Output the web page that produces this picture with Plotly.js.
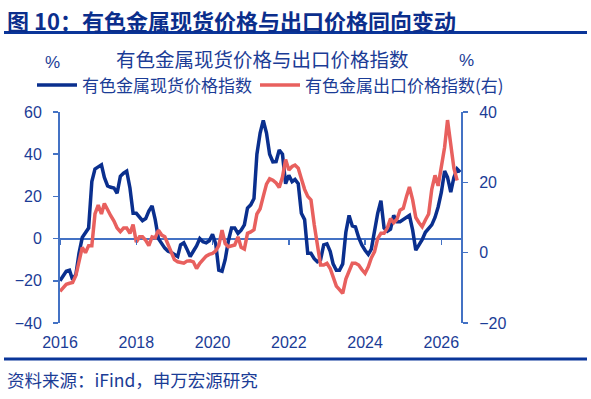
<!DOCTYPE html>
<html>
<head>
<meta charset="utf-8">
<script src="https://cdn.plot.ly/plotly-3.0.1.min.js"></script>
<style>
html,body{margin:0;padding:0;background:#fff;}
#chart{width:591px;height:399px;}
</style>
</head>
<body>
<div id="chart"></div>
<script>
// Monthly data, starting 2016-01
const startYear = 2016;
const spotIndex = [
 -20,-18,-15.5,-15,-19.5,-17,-7,0.5,2.5,5,27,33,
 34,35,29,25,24.3,24,21.5,29.5,31,32,24,12,
 12,10,8.5,9.5,13,15.5,9,0,-2.5,-4.5,-6,-6.5,
 -7.5,-8.5,-3,-2,-5,-8.5,-6,-3.5,0,-1.5,-2,-1,
 2,-2.5,-15,-15.5,-10,-1,5,5,2.5,4,6.5,14.5,
 16,19,40,50,56,50,40,36.4,36.5,42,40,26,
 30,27,28,26,12,9,-7,-7,-9.5,-11,-10,-3,
 -2.5,-6,-12,-15,-15,-12,3,11,6,5.5,0.5,-3,
 -5.5,-7.5,-5,5,12,18,5,3.5,4.5,11,8,8,
 9,10.3,11,4,-5.5,-3,-0.5,3,5,6.5,10,15,
 22,32,29,22,29,33,31.5
];
const exportIndex = [
 -11,-10,-9,-8.7,-8.5,-6.5,-3,1.5,0,2,2,11,
 13.5,11,14,12,10.5,9,7,6,7,7,5.5,8,
 3,4.5,4.5,3.5,2,4.5,4.2,6.4,5,4.5,2.5,0,
 -2,-2.6,-2.8,-3,-2.4,-2.3,-2.6,-4.5,-3,-2,-1,-0.5,
 -0.2,0.5,2,6.4,2.6,1.7,2,2.2,4.5,1.5,1,5.5,
 5.9,6.5,11,12.5,16,19.5,21,20.6,19.8,18.5,21.5,26.5,
 23.5,24.5,24.9,24,21,18,16,15,8,2,-3.5,-3.5,
 -3,-4.5,-7,-9.5,-10.5,-11.6,-7.5,-5,-3,-3,-3.5,-4.8,
 -5.9,-4,-1.5,0.3,4,5.5,5.5,7,9.7,8.5,9.5,12.1,
 12.6,16,18.7,15,10,8.5,7.4,9.3,11,18,22,19,
 25,30,37.7,31,24,20.5
];
const yearLabels = ['2016','2018','2020','2022','2024','2026'];
const seriesNames = ['有色金属现货价格指数','有色金属出口价格指数(右)'];

function monthDate(i){
  const y = startYear + Math.floor(i/12);
  const m = (i%12)+1;
  return y + '-' + (m<10?'0':'') + m + '-01';
}
const datesSpot = spotIndex.map((_,i)=>monthDate(i));
const datesExport = exportIndex.map((_,i)=>monthDate(i));
const tickDates = yearLabels.map(y=>y+'-01-01');

const txtColor = '#1b3c96';
const axColor = '#4472c4';
const font = 'Liberation Sans, Arial, Noto Sans CJK SC, sans-serif';
const cjk = 'Noto Sans CJK SC, Liberation Sans, sans-serif';

const traces = [
 {x: datesSpot, y: spotIndex, type:'scatter', mode:'lines', name: seriesNames[0],
  line:{color:'#0a2f8e', width:3.5}, xaxis:'x', yaxis:'y', legend:'legend'},
 {x: datesExport, y: exportIndex, type:'scatter', mode:'lines', name: seriesNames[1],
  line:{color:'#e8605e', width:3.5}, xaxis:'x', yaxis:'y2', legend:'legend2'},
 {x: [tickDates[0]], y:[null], type:'scatter', mode:'lines', showlegend:false, hoverinfo:'skip',
  xaxis:'x2', yaxis:'y'}
];

const L=60, R=461, T=111.7, B=323;
const W=R-L, H=B-T;
const px = v => (v-L)/W;
const py = v => (B-v)/H;

const legendBase = {orientation:'h', yanchor:'middle', xanchor:'left',
   font:{family:cjk, size:17, color:txtColor}, bgcolor:'rgba(0,0,0,0)', itemwidth:40};

const layout = {
 width:591, height:399,
 margin:{l:L, r:591-R, t:T, b:399-B, pad:0},
 paper_bgcolor:'#fff', plot_bgcolor:'#fff',
 font:{family:font, color:txtColor, size:16},
 showlegend:true,
 legend: Object.assign({}, legendBase, {x:px(32), y:py(85)}),
 legend2: Object.assign({}, legendBase, {x:px(255), y:py(85)}),
 xaxis:{type:'date', range:['2016-01-01','2026-07-08'], tickvals:tickDates, ticktext:yearLabels,
   showgrid:false, zeroline:false, showline:false, ticks:'', ticklabelstandoff:8,
   tickfont:{size:16, color:txtColor}},
 xaxis2:{type:'date', overlaying:'x', range:['2016-01-01','2026-07-08'], tickvals:tickDates,
   showticklabels:false, showgrid:false, zeroline:false, showline:false,
   ticks:'outside', ticklen:5, tickwidth:1.5, tickcolor:axColor,
   anchor:'free', position:0.4, side:'bottom'},
 yaxis:{range:[-40,60], tickvals:[-40,-20,0,20,40,60], showgrid:false,
   zeroline:true, zerolinecolor:axColor, zerolinewidth:2,
   showline:true, linecolor:axColor, linewidth:2, ticks:'outside', ticklen:5, tickwidth:1.5, tickcolor:axColor,
   tickfont:{size:16, color:txtColor}, ticklabelstandoff:8},
 yaxis2:{range:[-20,40], tickvals:[-20,0,20,40], overlaying:'y', side:'right', showgrid:false,
   zeroline:false, showline:true, linecolor:axColor, linewidth:2, ticks:'outside', ticklen:5, tickwidth:1.5, tickcolor:axColor,
   tickfont:{size:16, color:txtColor}, ticklabelstandoff:8},
 shapes:[
  {type:'line', xref:'paper', yref:'paper', x0:px(4), x1:px(587), y0:py(32), y1:py(32), line:{color:'#0a3599', width:3}},
  {type:'line', xref:'paper', yref:'paper', x0:px(4), x1:px(587), y0:py(359), y1:py(359), line:{color:'#0a3599', width:3}}
 ],
 annotations:[
  {text:'<b>图 10：有色金属现货价格与出口价格同向变动</b>', xref:'paper', yref:'paper', x:px(5), y:py(19.5),
   xanchor:'left', yanchor:'middle', showarrow:false, font:{family:cjk, size:22, color:'#0b2e8c'}},
  {text:'有色金属现货价格与出口价格指数', xref:'paper', yref:'paper', x:px(262), y:py(58),
   xanchor:'center', yanchor:'middle', showarrow:false, font:{family:cjk, size:19.5, color:txtColor}},
  {text:'%', xref:'paper', yref:'paper', x:px(52), y:py(62), xanchor:'center', yanchor:'middle',
   showarrow:false, font:{family:font, size:17, color:txtColor}},
  {text:'%', xref:'paper', yref:'paper', x:px(466), y:py(60), xanchor:'center', yanchor:'middle',
   showarrow:false, font:{family:font, size:17, color:txtColor}},
  {text:'资料来源：iFind，申万宏源研究', xref:'paper', yref:'paper', x:px(5), y:py(380),
   xanchor:'left', yanchor:'middle', showarrow:false, font:{family:cjk, size:17.5, color:txtColor}}
 ]
};

Plotly.newPlot('chart', traces, layout, {displayModeBar:false, staticPlot:true});
</script>
</body>
</html>
